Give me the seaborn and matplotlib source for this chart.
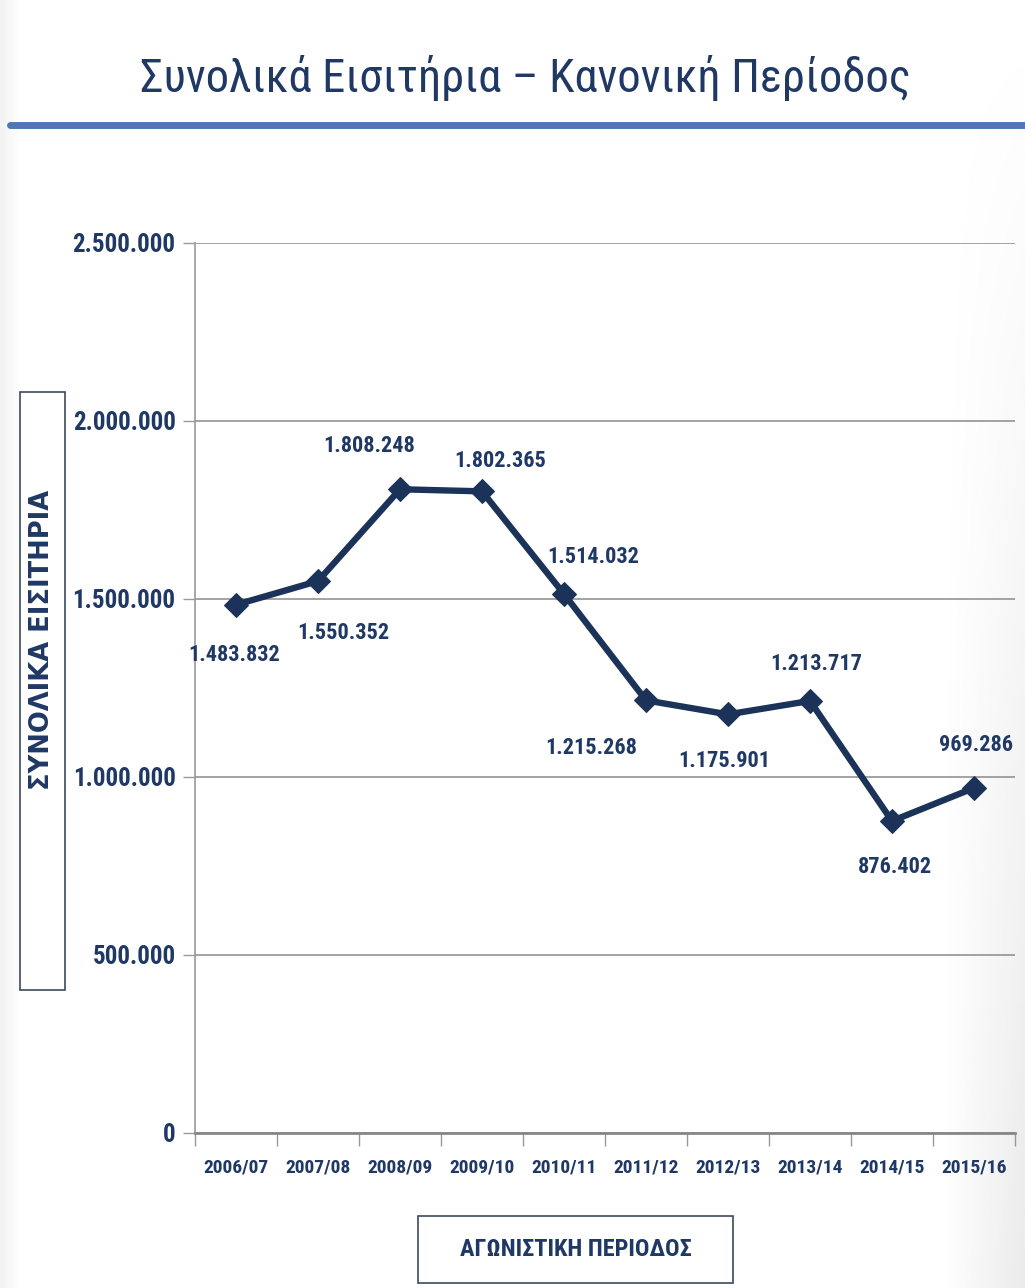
import os
import numpy as np
import pandas as pd
import matplotlib
matplotlib.use("Agg")
import matplotlib.pyplot as plt
from matplotlib import font_manager as fm
from matplotlib.font_manager import FontProperties
from matplotlib.ticker import FuncFormatter, FixedLocator, MultipleLocator
from matplotlib.patches import Rectangle
from matplotlib.lines import Line2D
import seaborn as sns

# Season totals (regular season tickets)
seasons = ["2006/07", "2007/08", "2008/09", "2009/10", "2010/11",
           "2011/12", "2012/13", "2013/14", "2014/15", "2015/16"]
tickets = [1483832, 1550352, 1808248, 1802365, 1514032,
           1215268, 1175901, 1213717, 876402, 969286]
# label offsets (pixels) for each point's value text
label_dx = [-2, 25, -31, 18, 29, -55, -4, 6, 3, 2]
label_dy = [-50, -52, 43, 30, 37, -48, -47, 37, -46, 43]

title = "Συνολικά Εισιτήρια – Κανονική Περίοδος"
ylabel = "ΣΥΝΟΛΙΚΑ ΕΙΣΙΤΗΡΙΑ"
xlabel = "ΑΓΩΝΙΣΤΙΚΗ ΠΕΡΙΟΔΟΣ"

NAVY = "#1b3358"
TEXT = "#1f3864"
RULE = "#4f78b3"

sns.set_theme(style="white")
plt.rcParams["font.family"] = ["Liberation Sans", "DejaVu Sans"]


def narrow_font(bold):
    """Find an installed narrow/condensed face (regular or bold)."""
    skip = ["italic", "oblique", "semi", "extra", "ultra", "light", "thin",
            "medium", "black", "mono", "serif", "cjk", "heavy"]
    order = ["liberationsansnarrow", "notosanscondensed", "robotocondensed",
             "opensanscondensed", "dejavusanscondensed"]
    found = []
    for f in fm.fontManager.ttflist:
        base = os.path.basename(f.fname).lower()
        key = base.replace("-", "").replace("_", "").replace(" ", "")
        if "narrow" not in key and "condensed" not in key:
            continue
        if any(k in key for k in skip):
            continue
        if ("bold" in key) != bold:
            continue
        rank = next((i for i, k in enumerate(order) if k in key), len(order))
        found.append((rank, f.fname))
    found.sort()
    return found[0][1] if found else None


reg_path = narrow_font(False)
bold_path = narrow_font(True)
scale = 1.0 if reg_path else 0.84


def fp(size, bold=False):
    path = bold_path if bold else reg_path
    if path:
        return FontProperties(fname=path, size=size)
    return FontProperties(family=["Liberation Sans", "DejaVu Sans"],
                          weight="bold" if bold else "normal",
                          size=size * scale)


W, H = 1025, 1288
fig = plt.figure(figsize=(W / 100, H / 100), dpi=100)
fig.patch.set_facecolor("white")

# faint grey slide shading along the edges
gx = np.linspace(0, 1, 400)
gy = np.linspace(0, 1, 400)
GX, GY = np.meshgrid(gx, gy)
shade = 0.05 * np.clip(1 - GX / 0.02, 0, 1) \
      + 0.08 * np.clip((GX - 0.92) / 0.08, 0, 1) * np.clip(GY, 0, 1)
bg = fig.add_axes([0, 0, 1, 1], zorder=-10)
bg.imshow(1 - shade, cmap="gray", vmin=0, vmax=1, aspect="auto",
          extent=[0, 1, 0, 1], origin="upper", interpolation="bilinear")
bg.set_axis_off()

ax = fig.add_axes([195 / W, 1 - 1133 / H, 820 / W, (1133 - 243) / H])
ax.patch.set_alpha(0)

df = pd.DataFrame({"season": seasons, "tickets": tickets})
x = np.arange(len(seasons))
sns.lineplot(data=df.assign(pos=x), x="pos", y="tickets", ax=ax,
             color=NAVY, linewidth=4.6, marker="D", markersize=12,
             markeredgecolor=NAVY, sort=False, zorder=5)

ax.set_xlim(-0.5, len(seasons) - 0.5)
ax.set_ylim(0, 2500000)
ax.yaxis.set_major_locator(MultipleLocator(500000))
ax.yaxis.set_major_formatter(
    FuncFormatter(lambda v, p: f"{int(v):,}".replace(",", ".")))
ax.set_xticks(x)
ax.set_xticklabels(seasons)
ax.xaxis.set_minor_locator(FixedLocator(np.arange(-0.5, len(seasons), 1.0)))
ax.tick_params(axis="x", which="major", length=0, pad=18, labelcolor=TEXT)
ax.tick_params(axis="x", which="minor", length=9, width=1, color="#999999",
               direction="out", bottom=True)
ax.tick_params(axis="y", which="major", length=9, width=1, color="#999999",
               direction="out", left=True, pad=5, labelcolor=TEXT)
for lab in ax.get_xticklabels():
    lab.set_fontproperties(fp(14, bold=True))
for lab in ax.get_yticklabels():
    lab.set_fontproperties(fp(18, bold=True))

ax.grid(axis="y", color="#8a8a8a", linewidth=1.1)
ax.grid(axis="x", visible=False)
for s in ["top", "right"]:
    ax.spines[s].set_visible(False)
ax.spines["left"].set_color("#999999")
ax.spines["left"].set_linewidth(1.2)
ax.spines["bottom"].set_color("#888888")
ax.spines["bottom"].set_linewidth(2)
ax.set_xlabel("")
ax.set_ylabel("")

for xi, v, dx, dy in zip(x, tickets, label_dx, label_dy):
    ax.annotate(f"{v:,}".replace(",", "."), (xi, v), xytext=(dx, dy),
                textcoords="offset pixels", ha="center", va="center",
                fontproperties=fp(16, bold=True), color=TEXT, zorder=6)

# title and rule
fig.text(525 / W, 1 - 78 / H, title, ha="center", va="center",
         fontproperties=fp(33.5), color=TEXT)
fig.add_artist(Line2D([10 / W, 1.0], [1 - 125 / H, 1 - 125 / H],
                      color=RULE, linewidth=5, transform=fig.transFigure))

# boxed y label
fig.add_artist(Rectangle((20 / W, 1 - 990 / H), 45 / W, 598 / H,
                         transform=fig.transFigure, facecolor="white",
                         edgecolor="#3b4a5e", linewidth=1.2))
fig.text(42.5 / W, 1 - 640 / H, ylabel, rotation=90, ha="center",
         va="center", fontsize=18.5, fontweight="bold", color=TEXT,
         family=["DejaVu Sans"])

# boxed x label
fig.add_artist(Rectangle((418 / W, 1 - 1283 / H), 315 / W, 67 / H,
                         transform=fig.transFigure, facecolor="white",
                         edgecolor="#3b4a5e", linewidth=1.2))
fig.text(575.5 / W, 1 - 1250 / H, xlabel, ha="center", va="center",
         fontproperties=fp(17.5, bold=True), color=TEXT)

fig.savefig("out.png", dpi=100)
